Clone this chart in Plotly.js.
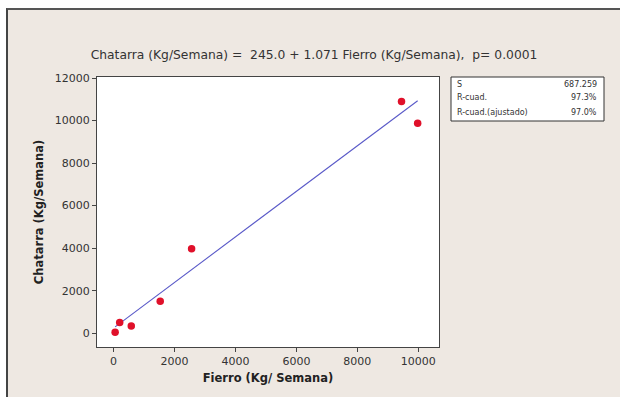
<!DOCTYPE html>
<html><head><meta charset="utf-8">
<script src="https://cdn.plot.ly/plotly-3.0.1.min.js"></script>
<style>
html,body{margin:0;padding:0;background:#fff;}
#frame{position:absolute;left:6px;top:8px;width:640px;height:420px;border-left:2px solid #444;border-top:2px solid #555;background:#EEE8E2;}
#chart{position:absolute;left:0;top:0;width:620px;height:397px;}
</style></head>
<body>
<div id="frame"></div>
<div id="chart"></div>
<script>
// Data
const fierro   = [50, 200, 580, 1530, 2560, 9450, 9980];
const chatarra = [40, 500, 340, 1500, 3970, 10900, 9870];
const intercept = 245.0;
const slope = 1.071;
const xTicks = [0, 2000, 4000, 6000, 8000, 10000];
const yTicks = [0, 2000, 4000, 6000, 8000, 10000, 12000];
const statLabels = ["S", "R-cuad.", "R-cuad.(ajustado)"];
const statValues = ["687.259", "97.3%", "97.0%"];
const titleText = "Chatarra (Kg/Semana) = &nbsp;245.0 + 1.071 Fierro (Kg/Semana), &nbsp;p= 0.0001";

const xMin = Math.min(...fierro), xMax = Math.max(...fierro);
const fitX = [xMin, xMax];
const fitY = fitX.map(v => intercept + slope * v);

const W = 620, H = 397;
const m = {l: 97, r: 181, t: 77, b: 50};

const traces = [
  {x: fitX, y: fitY, mode: 'lines', line: {color: '#5A5AC8', width: 1.1}, hoverinfo: 'skip'},
  {x: fierro, y: chatarra, mode: 'markers', marker: {color: '#E0102A', size: 7.5, symbol: 'circle'}}
];

const pw = W - m.l - m.r, ph = H - m.t - m.b;
const px = v => (v - m.l) / pw;
const py = v => 1 - (v - m.t) / ph;

const annotations = [];
const rowY = [84, 98, 112];
statLabels.forEach((lab, i) => {
  annotations.push({xref: 'paper', yref: 'paper', x: px(455), y: py(rowY[i]), xanchor: 'left', yanchor: 'middle',
    text: lab, showarrow: false, font: {family: 'DejaVu Sans', size: 8, color: '#333'}});
  annotations.push({xref: 'paper', yref: 'paper', x: px(599), y: py(rowY[i]), xanchor: 'right', yanchor: 'middle',
    text: statValues[i], showarrow: false, font: {family: 'DejaVu Sans', size: 8, color: '#333'}});
});

const layout = {
  width: W, height: H,
  margin: m,
  paper_bgcolor: 'rgba(0,0,0,0)',
  plot_bgcolor: '#fff',
  showlegend: false,
  font: {family: 'DejaVu Sans', color: '#333'},
  title: {text: titleText, x: 314 / W, xanchor: 'center', y: 1 - 55/H, yanchor: 'middle',
          font: {family: 'DejaVu Sans', size: 12.3, color: '#333'}},
  xaxis: {range: [-545, 10680], tickvals: xTicks, ticktext: xTicks.map(String),
          ticks: 'outside', ticklen: 4, tickcolor: '#444', showgrid: false, zeroline: false,
          showline: true, linecolor: '#444', linewidth: 1, mirror: true,
          tickfont: {family: 'DejaVu Sans', size: 11, color: '#333'},
          title: {text: '<b>Fierro (Kg/ Semana)</b>', standoff: 6, font: {family: 'DejaVu Sans', size: 11.5, color: '#222'}}},
  yaxis: {range: [-650, 12050], tickvals: yTicks, ticktext: yTicks.map(String),
          ticks: 'outside', ticklen: 4, tickcolor: '#444', showgrid: false, zeroline: false,
          showline: true, linecolor: '#444', linewidth: 1, mirror: true,
          tickfont: {family: 'DejaVu Sans', size: 11, color: '#333'},
          title: {text: '<b>Chatarra (Kg/Semana)</b>', standoff: 8, font: {family: 'DejaVu Sans', size: 11.5, color: '#222'}}},
  shapes: [
    {type: 'rect', xref: 'paper', yref: 'paper', x0: px(451), x1: px(604), y0: py(77), y1: py(121),
     fillcolor: '#fff', line: {color: '#333', width: 1}, layer: 'below'}
  ],
  annotations: annotations
};

Plotly.newPlot('chart', traces, layout, {displayModeBar: false, staticPlot: true});
</script>
</body></html>
